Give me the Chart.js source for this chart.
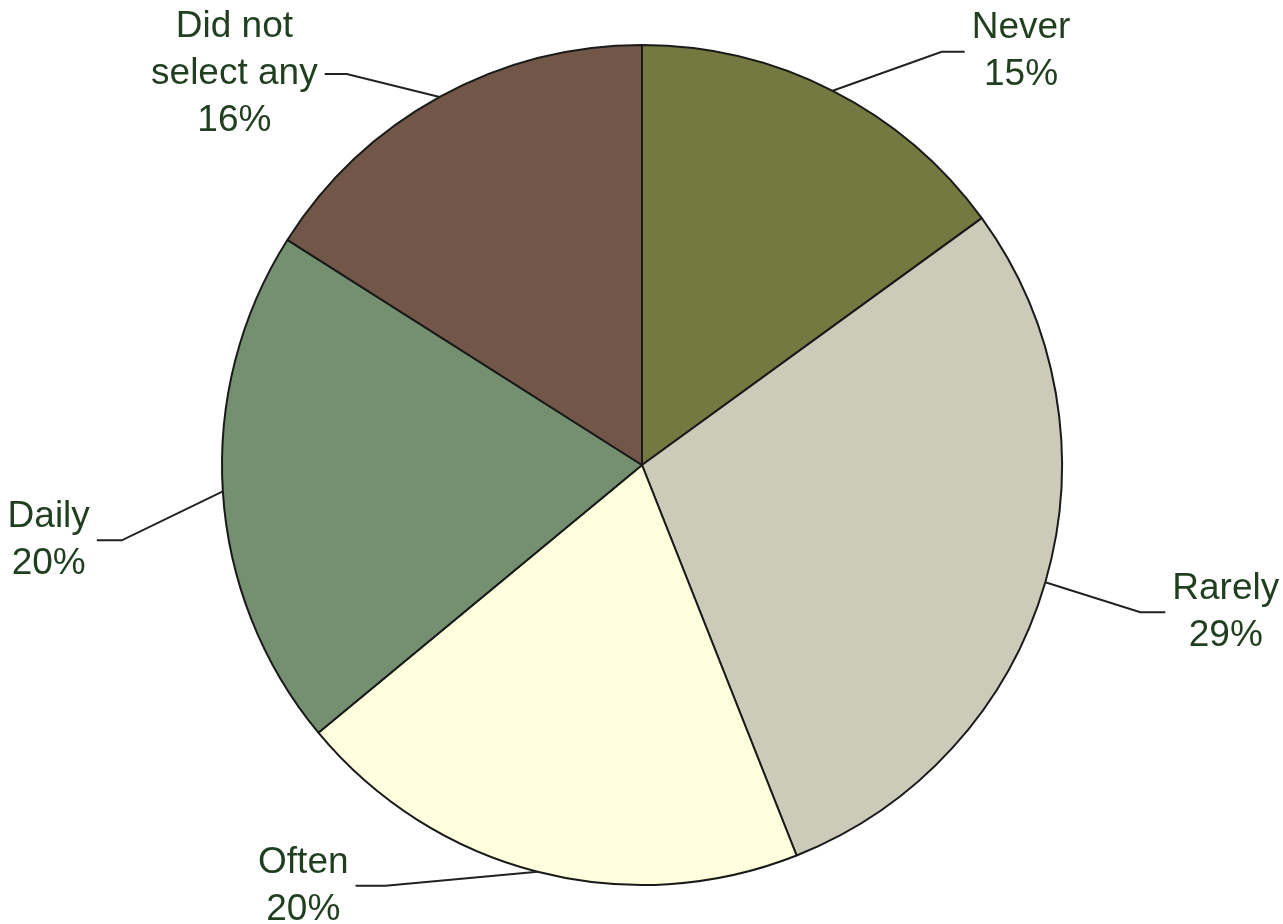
<!DOCTYPE html>
<html>
<head>
<meta charset="utf-8">
<script src="https://cdn.jsdelivr.net/npm/chart.js@4"></script>
<style>
  html, body { margin: 0; padding: 0; background: #fff; }
  #wrap { width: 1283px; height: 924px; }
</style>
</head>
<body>
<div id="wrap"><canvas id="pie" width="1283" height="924"></canvas></div>
<script>
// ============ DATA ============
const categories = ["Never", "Rarely", "Often", "Daily", "Did not select any"];
const labelLines = [["Never"], ["Rarely"], ["Often"], ["Daily"], ["Did not", "select any"]];
const percents = [15, 29, 20, 20, 16];
const sliceColors = ["#737940", "#cccbba", "#ffffdd", "#759070", "#725648"];

// leader line shape per slice: elbow offset from the edge point, then horizontal run
const leaders = [
  { dx: 109, dy: -39, run: 23 },
  { dx: 95, dy: 30, run: 25 },
  { dx: -152, dy: 14, run: -30 },
  { dx: -101, dy: 49, run: -25 },
  { dx: -93, dy: -23, run: -22 },
];

const TEXT_COLOR = "#1f3f1f";
const FONT = "37px 'Liberation Sans', Arial, sans-serif";
const LINE_H = 47;

// draws the outside labels with leader lines
const calloutPlugin = {
  id: "callouts",
  afterDraw(chart) {
    const ctx = chart.ctx;
    const meta = chart.getDatasetMeta(0);
    ctx.save();
    ctx.font = FONT;
    ctx.textBaseline = "middle";
    ctx.textAlign = "center";
    meta.data.forEach((arc, i) => {
      const { x, y, startAngle, endAngle, outerRadius } = arc.getProps(["x", "y", "startAngle", "endAngle", "outerRadius"], true);
      const mid = (startAngle + endAngle) / 2;
      const ex = x + Math.cos(mid) * outerRadius;
      const ey = y + Math.sin(mid) * outerRadius;
      const L = leaders[i];
      const bx = ex + L.dx, by = ey + L.dy;
      const fx = bx + L.run, fy = by;

      ctx.strokeStyle = "#222";
      ctx.lineWidth = 2;
      ctx.beginPath();
      ctx.moveTo(ex, ey);
      ctx.lineTo(bx, by);
      ctx.lineTo(fx, fy);
      ctx.stroke();

      const lines = [...labelLines[i], percents[i] + "%"];
      const maxW = Math.max(...lines.map(t => ctx.measureText(t).width));
      const gap = 7;
      const cx = L.run > 0 ? fx + gap + maxW / 2 : fx - gap - maxW / 2;
      const top = fy - (lines.length - 1) * LINE_H / 2;
      ctx.fillStyle = TEXT_COLOR;
      lines.forEach((t, k) => ctx.fillText(t, cx, top + k * LINE_H));
    });
    ctx.restore();
  }
};

new Chart(document.getElementById("pie").getContext("2d"), {
  type: "pie",
  data: {
    labels: categories,
    datasets: [{
      data: percents,
      backgroundColor: sliceColors,
      borderColor: "#1a1a1a",
      borderWidth: 2,
      radius: 420,
    }]
  },
  options: {
    responsive: false,
    animation: false,
    layout: { padding: { top: 6, left: 1 } },
    plugins: {
      legend: { display: false },
      tooltip: { enabled: false }
    }
  },
  plugins: [calloutPlugin]
});
</script>
</body>
</html>
